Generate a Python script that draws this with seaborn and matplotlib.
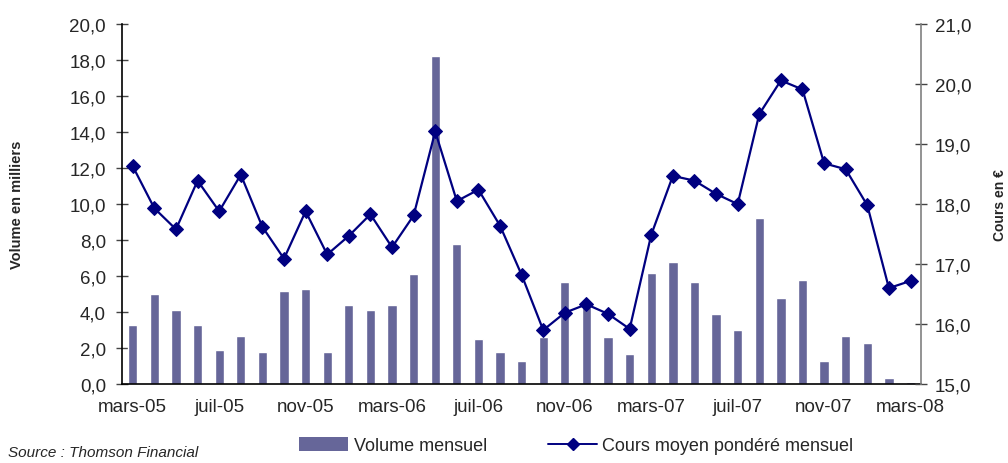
import numpy as np
import pandas as pd
import matplotlib
matplotlib.use("Agg")
import matplotlib.pyplot as plt
from matplotlib.patches import Patch
from matplotlib.lines import Line2D
import seaborn as sns

# monthly data, mars-05 .. mars-08
months = ["mars-05", "avr-05", "mai-05", "juin-05", "juil-05", "août-05", "sept-05", "oct-05",
          "nov-05", "déc-05", "janv-06", "févr-06", "mars-06", "avr-06", "mai-06", "juin-06",
          "juil-06", "août-06", "sept-06", "oct-06", "nov-06", "déc-06", "janv-07", "févr-07",
          "mars-07", "avr-07", "mai-07", "juin-07", "juil-07", "août-07", "sept-07", "oct-07",
          "nov-07", "déc-07", "janv-08", "févr-08", "mars-08"]
volume = [3.3, 5.0, 4.1, 3.3, 1.9, 2.7, 1.8, 5.2, 5.3, 1.8, 4.4, 4.1, 4.4, 6.1, 18.2, 7.8,
          2.5, 1.8, 1.3, 2.6, 5.7, 4.3, 2.6, 1.7, 6.2, 6.8, 5.7, 3.9, 3.0, 9.2, 4.8, 5.8,
          1.3, 2.7, 2.3, 0.35, 0.1]
cours = [18.63, 17.93, 17.58, 18.39, 17.88, 18.49, 17.62, 17.09, 17.88, 17.16, 17.47, 17.83,
         17.28, 17.81, 19.21, 18.05, 18.24, 17.64, 16.82, 15.90, 16.19, 16.33, 16.17, 15.92,
         17.49, 18.47, 18.39, 18.17, 18.00, 19.50, 20.06, 19.91, 18.68, 18.58, 17.98, 16.60,
         16.72]

df = pd.DataFrame({"mois": months, "volume": volume, "cours": cours})
df["pos"] = np.arange(len(df))

bar_color = "#666699"
line_color = "#000080"

sns.set_style("white")
plt.rcParams["font.family"] = ["Liberation Sans", "DejaVu Sans"]

fig = plt.figure(figsize=(10.08, 4.64), dpi=100)
ax = fig.add_axes([0.121, 0.170, 0.793, 0.776])

sns.barplot(data=df, x="pos", y="volume", color=bar_color, saturation=1,
            width=0.43, ax=ax, native_scale=True)
ax.set_xlim(-0.5, len(df) - 0.5)
ax.set_ylim(0, 20)
ax.set_yticks(np.arange(0, 20.1, 2))
ax.set_yticklabels([f"{v:.1f}".replace(".", ",") for v in np.arange(0, 20.1, 2)], fontsize=13.5)

# tick marks at month-group boundaries, labels every 4 months
ax.set_xticks(np.arange(-0.5, len(df) - 1, 4))
ax.set_xticklabels([])
ax.set_xticks(np.arange(0, len(df), 4), minor=True)
ax.set_xticklabels([months[i] for i in range(0, len(df), 4)], minor=True, fontsize=13.5)
ax.tick_params(axis="x", which="major", direction="inout", length=8, width=1, color="black")
ax.tick_params(axis="x", which="minor", length=0, pad=10)
ax.tick_params(axis="y", direction="inout", length=9, width=1, color="#444444", pad=7)
ax.set_xlabel("")
ax.set_ylabel("Volume en milliers", fontsize=10.5, fontweight="bold")
ax.yaxis.set_label_coords(-0.122, 0.5)

for s in ["top", "right"]:
    ax.spines[s].set_visible(False)
ax.spines["left"].set_color("black")
ax.spines["bottom"].set_color("black")
ax.spines["left"].set_linewidth(1.2)
ax.spines["bottom"].set_linewidth(1.2)

ax2 = ax.twinx()
sns.lineplot(data=df, x="pos", y="cours", color=line_color, marker="D", markersize=7,
             markeredgecolor=line_color, linewidth=1.6, ax=ax2)
ax2.set_ylim(15, 21)
ax2.set_yticks(np.arange(15, 21.1, 1))
ax2.set_yticklabels([f"{v:.1f}".replace(".", ",") for v in np.arange(15, 21.1, 1)], fontsize=13.5)
ax2.tick_params(axis="y", direction="inout", length=9, width=1, color="#444444", pad=5)
ax2.set_xlim(-0.5, len(df) - 0.5)
ax2.set_xlabel("")
ax2.set_ylabel("Cours en €", fontsize=10, fontweight="bold", rotation=90)
ax2.yaxis.set_label_coords(1.090, 0.5)
for s in ["top", "left", "bottom"]:
    ax2.spines[s].set_visible(False)
ax2.spines["right"].set_color("#808080")
ax2.spines["right"].set_linewidth(1.2)

handles = [Patch(facecolor=bar_color, edgecolor="none", label="Volume mensuel"),
           Line2D([0], [0], color=line_color, marker="D", markersize=6, linewidth=1.4,
                  label="Cours moyen pondéré mensuel")]
fig.legend(handles=handles, loc="lower left", bbox_to_anchor=(0.281, -0.016), ncol=2,
           frameon=False, fontsize=13, handlelength=2.7, handleheight=0.8,
           handletextpad=0.3, columnspacing=3.4)

fig.text(0.008, 0.0145, "Source : Thomson Financial", fontsize=11, fontstyle="italic")

fig.savefig("out.png", dpi=100)
